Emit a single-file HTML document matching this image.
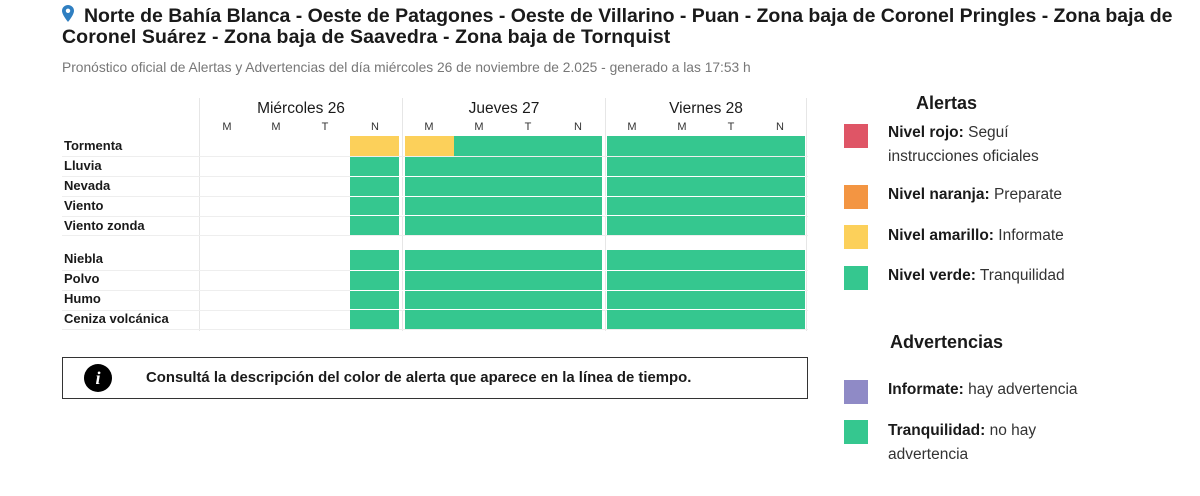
<!DOCTYPE html>
<html><head><meta charset="utf-8"><style>
body{margin:0;width:1200px;height:496px;background:#fff;font-family:"Liberation Sans",Arial,sans-serif;position:relative;overflow:hidden;color:#1a1a1a}
.a{position:absolute;white-space:nowrap}
.t{font-weight:bold;font-size:19.5px;left:62px;line-height:21px}
.lbl{font-weight:bold;font-size:13px;left:64px}
.g{position:absolute;background:#35c78f}
.y{position:absolute;background:#fcd05a}
.hl{position:absolute;left:62px;width:746px;height:1px;background:#eee}
.vl{position:absolute;top:98px;height:233px;width:1px;background:#e6e6e6}
.day{font-size:15.5px;font-weight:500;text-align:center}
.sl{font-size:11px;color:#333;text-align:center;width:20px}
.sq{position:absolute;left:844px;width:24px;height:24px}
.lg{font-size:15.5px;left:888px;color:#333;line-height:24px}
.lg b{color:#1a1a1a}
</style></head><body>
<svg class="a" style="left:62px;top:5px" width="12" height="17" viewBox="0 0 12 17"><path d="M6 0C2.7 0 0 2.6 0 5.8 0 10 6 17 6 17s6-7 6-11.2C12 2.6 9.3 0 6 0z" fill="#2f7fc1"/><circle cx="6" cy="5.8" r="2.2" fill="#fff"/></svg>
<div class="a t" style="top:6px;left:84px;letter-spacing:-0.03px">Norte de Bahía Blanca - Oeste de Patagones - Oeste de Villarino - Puan - Zona baja de Coronel Pringles - Zona baja de</div>
<div class="a t" style="top:27px;letter-spacing:0.1px">Coronel Suárez - Zona baja de Saavedra - Zona baja de Tornquist</div>
<div class="a" style="left:62px;top:60px;font-size:13.8px;color:#777">Pronóstico oficial de Alertas y Advertencias del día miércoles 26 de noviembre de 2.025 - generado a las 17:53 h</div>

<div class="vl" style="left:199px"></div><div class="vl" style="left:402px"></div><div class="vl" style="left:605px"></div><div class="vl" style="left:806px"></div>
<div class="a day" style="left:200px;width:202px;top:100px">Miércoles 26</div>
<div class="a day" style="left:403px;width:202px;top:100px">Jueves 27</div>
<div class="a day" style="left:606px;width:200px;top:100px">Viernes 28</div>
<div class="a sl" style="left:217px;top:121px">M</div><div class="a sl" style="left:266px;top:121px">M</div><div class="a sl" style="left:315px;top:121px">T</div><div class="a sl" style="left:365px;top:121px">N</div>
<div class="a sl" style="left:419px;top:121px">M</div><div class="a sl" style="left:469px;top:121px">M</div><div class="a sl" style="left:518px;top:121px">T</div><div class="a sl" style="left:568px;top:121px">N</div>
<div class="a sl" style="left:622px;top:121px">M</div><div class="a sl" style="left:672px;top:121px">M</div><div class="a sl" style="left:721px;top:121px">T</div><div class="a sl" style="left:770px;top:121px">N</div>

<div class="a lbl" style="top:138px">Tormenta</div>
<div class="a lbl" style="top:158px">Lluvia</div>
<div class="a lbl" style="top:178px">Nevada</div>
<div class="a lbl" style="top:198px">Viento</div>
<div class="a lbl" style="top:218px">Viento zonda</div>
<div class="a lbl" style="top:251px">Niebla</div>
<div class="a lbl" style="top:271px">Polvo</div>
<div class="a lbl" style="top:291px">Humo</div>
<div class="a lbl" style="top:311px">Ceniza volcánica</div>

<div class="hl" style="top:156px"></div><div class="hl" style="top:176px"></div><div class="hl" style="top:196px"></div><div class="hl" style="top:216px"></div><div class="hl" style="top:235px"></div>
<div class="hl" style="top:270px"></div><div class="hl" style="top:290px"></div><div class="hl" style="top:310px"></div><div class="hl" style="top:329px"></div>

<div class="y" style="left:350px;top:136px;width:49px;height:20px"></div>
<div class="y" style="left:405px;top:136px;width:49px;height:20px"></div>
<div class="g" style="left:454px;top:136px;width:148px;height:20px"></div>
<div class="g" style="left:607px;top:136px;width:198px;height:20px"></div>
<div class="g" style="left:350px;top:157px;width:49px;height:78px"></div>
<div class="g" style="left:405px;top:157px;width:197px;height:78px"></div>
<div class="g" style="left:607px;top:157px;width:198px;height:78px"></div>
<div class="g" style="left:350px;top:250px;width:49px;height:79px"></div>
<div class="g" style="left:405px;top:250px;width:197px;height:79px"></div>
<div class="g" style="left:607px;top:250px;width:198px;height:79px"></div>
<div class="a" style="left:350px;top:176px;width:455px;height:1px;background:#fff"></div>
<div class="a" style="left:350px;top:196px;width:455px;height:1px;background:#fff"></div>
<div class="a" style="left:350px;top:215px;width:455px;height:1px;background:#fff"></div>
<div class="a" style="left:350px;top:270px;width:455px;height:1px;background:#fff"></div>
<div class="a" style="left:350px;top:290px;width:455px;height:1px;background:#fff"></div>
<div class="a" style="left:350px;top:309px;width:455px;height:1px;background:#fff"></div>

<div class="a" style="left:62px;top:357px;width:744px;height:40px;border:1px solid #333"></div>
<div class="a" style="left:84px;top:364px;width:28px;height:28px;border-radius:50%;background:#000;color:#fff;font:bold italic 18px 'Liberation Serif',serif;text-align:center;line-height:28px">i</div>
<div class="a" style="left:146px;top:370px;font-size:14.9px;font-weight:bold">Consultá la descripción del color de alerta que aparece en la línea de tiempo.</div>

<div class="a" style="left:916px;top:93px;font-size:18px;font-weight:bold">Alertas</div>
<div class="sq" style="top:124px;background:#df5566"></div>
<div class="a lg" style="top:121px"><b>Nivel rojo:</b> Seguí<br>instrucciones oficiales</div>
<div class="sq" style="top:185px;background:#f39542"></div>
<div class="a lg" style="top:183px"><b>Nivel naranja:</b> Preparate</div>
<div class="sq" style="top:225px;background:#fcd05a"></div>
<div class="a lg" style="top:224px"><b>Nivel amarillo:</b> Informate</div>
<div class="sq" style="top:266px;background:#35c78f"></div>
<div class="a lg" style="top:264px"><b>Nivel verde:</b> Tranquilidad</div>
<div class="a" style="left:890px;top:332px;font-size:18px;font-weight:bold">Advertencias</div>
<div class="sq" style="top:380px;background:#8f8ac6"></div>
<div class="a lg" style="top:378px"><b>Informate:</b> hay advertencia</div>
<div class="sq" style="top:420px;background:#35c78f"></div>
<div class="a lg" style="top:419px"><b>Tranquilidad:</b> no hay<br>advertencia</div>
</body></html>
